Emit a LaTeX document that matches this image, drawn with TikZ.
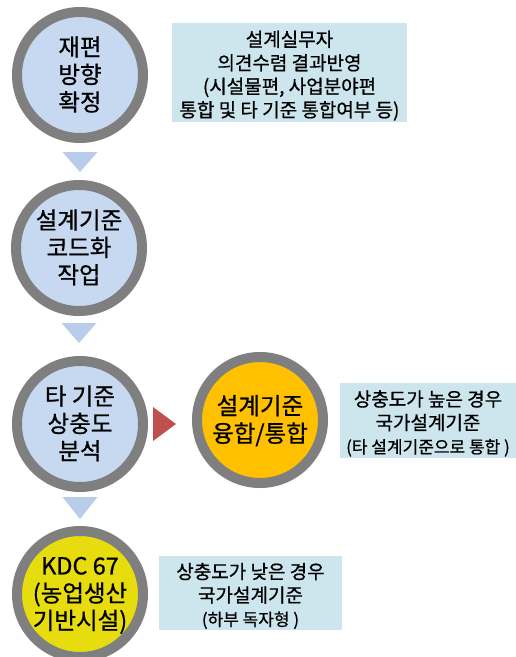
\documentclass[tikz,border=0pt]{standalone}
\usepackage{fontspec}
\setmainfont{Noto Sans CJK KR}[FakeBold=0.7]
\usetikzlibrary{calc}
\definecolor{ringgray}{HTML}{7F7F7F}
\definecolor{lblue}{HTML}{C6D9F1}
\definecolor{boxcyan}{HTML}{CDE6EE}
\definecolor{orangef}{HTML}{FFC000}
\definecolor{yellowf}{HTML}{E6DC0E}
\definecolor{tri}{HTML}{B9CDEA}
\definecolor{redtri}{HTML}{C0504D}
\tikzset{
  stage/.style={circle, draw=ringgray, line width=10pt, minimum size=126pt, inner sep=0pt,
    align=center, font=\fontsize{23.5}{26.5}\selectfont, text=black},
  infobox/.style={rectangle, fill=boxcyan, inner sep=0pt, align=center,
    font=\fontsize{19}{23.5}\selectfont, text=black},
  downtri/.style={fill=tri},
}
\newcommand{\smallline}[1]{{\fontsize{17}{20}\selectfont #1}}
\newcommand{\shiftedlines}[2]{\raisebox{#1}[\height][\depth]{\begin{tabular}{@{}c@{}}#2\end{tabular}}}
\begin{document}
\begin{tikzpicture}[x=1pt,y=-1pt]
\useasboundingbox (0,0) rectangle (516,657);
\fill[white] (0,0) rectangle (516,657);
\node[stage, fill=lblue] (c1) at (80,75) {\shiftedlines{-2.5pt}{재편\\방향\\확정}};
\node[stage, fill=lblue] (c2) at (79,248) {\shiftedlines{-2.5pt}{설계기준\\코드화\\작업}};
\node[stage, fill=lblue] (c3) at (80,424) {\shiftedlines{-2.5pt}{타 기준\\상충도\\분석}};
\node[stage, fill=orangef] (c5) at (260,420) {\shiftedlines{-2.5pt}{설계기준\\융합/통합}};
\node[stage, fill=yellowf] (c4) at (80,594) {\shiftedlines{-2.5pt}{KDC 67\\(농업생산\\기반시설)}};

\node[infobox, minimum width=235pt, minimum height=99pt] (b1) at (289.5,72.5)
  {\shiftedlines{-4.5pt}{설계실무자\\의견수렴 결과반영\\(시설물편, 사업분야편\\통합 및 타 기준 통합여부 등)}};
\node[infobox, minimum width=176pt, minimum height=75pt] (b3) at (428,420.5)
  {\shiftedlines{-4.5pt}{상충도가 높은 경우\\국가설계기준\\\smallline{(타 설계기준으로 통합 )}}};
\node[infobox, minimum width=183pt, minimum height=74pt] (b4) at (250.5,593)
  {\shiftedlines{-4.5pt}{상충도가 낮은 경우\\국가설계기준\\\smallline{(하부 독자형 )}}};

% down triangles between stages
\fill[downtri] ($(c1.south)+(-17.5,9)$) -- ++(35,0) -- ($(c1.south)+(0,29)$) -- cycle;
\fill[downtri] ($(c2.south)+(-17.5,7)$) -- ++(35,0) -- ($(c2.south)+(0,27)$) -- cycle;
\fill[downtri] ($(c3.south)+(-17.5,5)$) -- ++(35,0) -- ($(c3.south)+(0,27)$) -- cycle;
% right triangle
\fill[redtri] ($(c3.east)+(5,-17)$) -- ($(c3.east)+(5,17)$) -- ($(c3.east)+(28,0)$) -- cycle;
\end{tikzpicture}
\end{document}
